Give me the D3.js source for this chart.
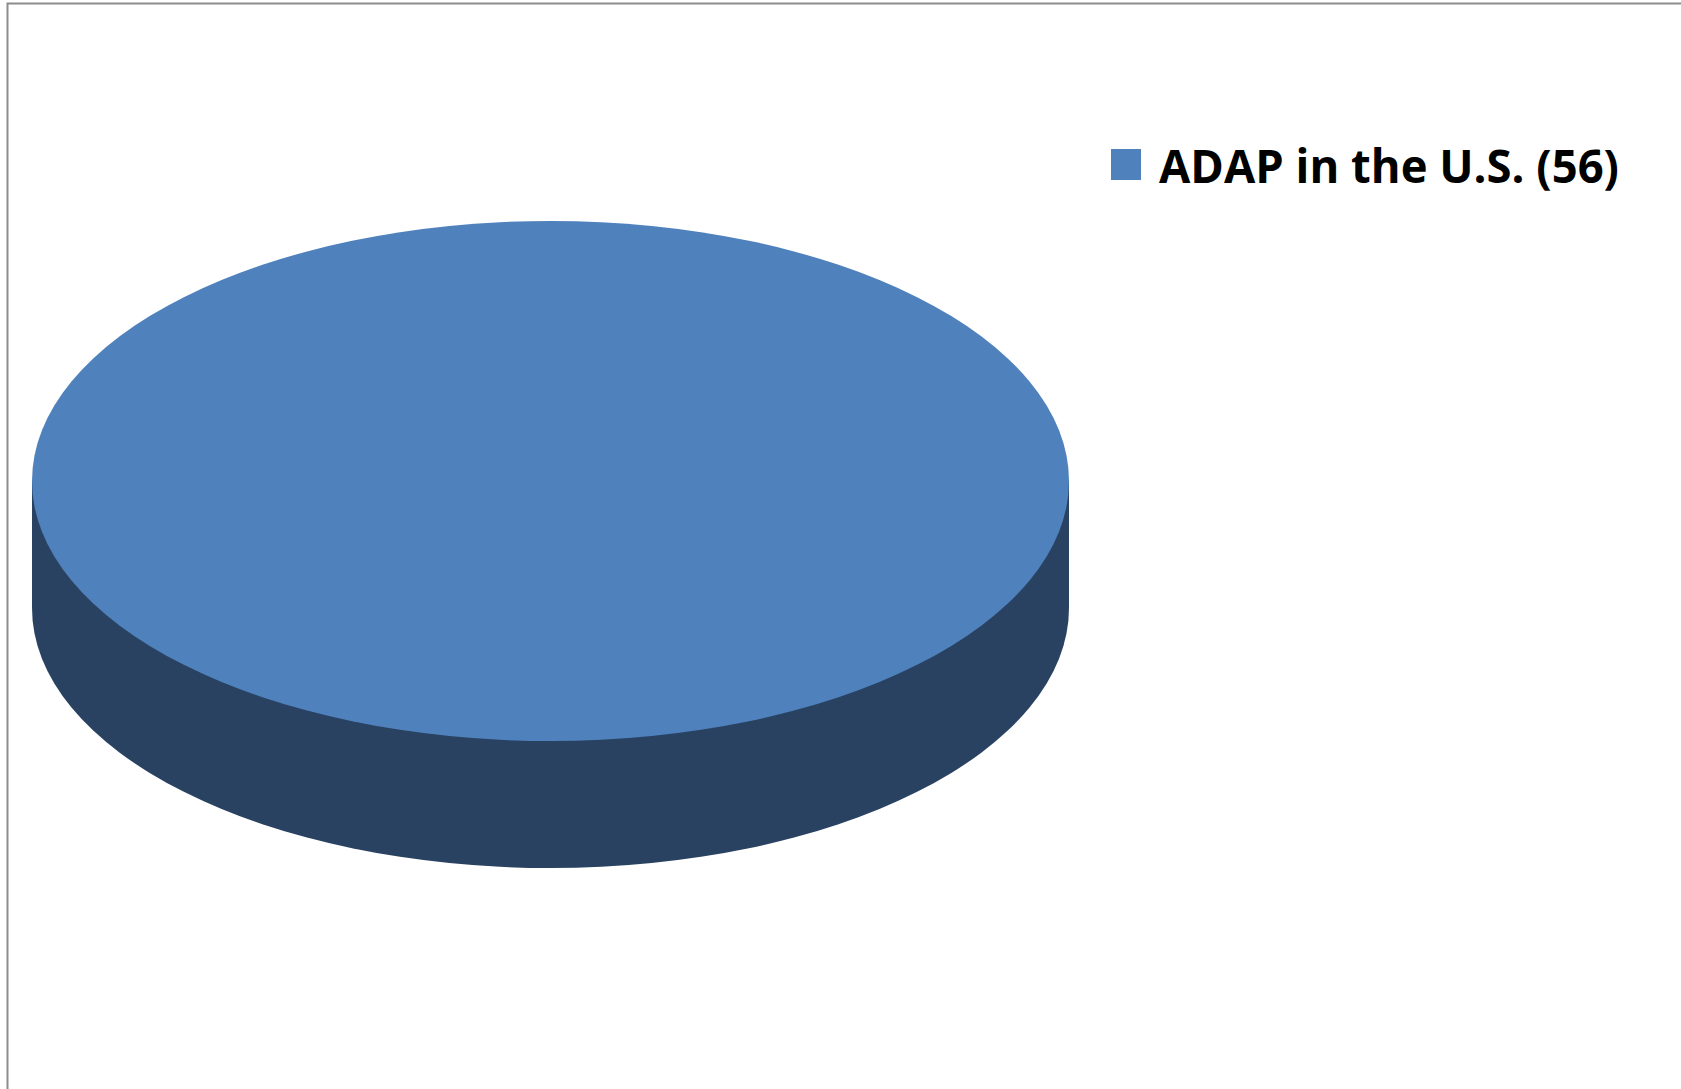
<!DOCTYPE html>
<html>
<head>
<meta charset="utf-8">
<script src="https://cdn.jsdelivr.net/npm/d3@7"></script>
<style>
	body { margin: 0; background: #fff; }
	svg { display: block; }
</style>
</head>
<body>
<svg id="pie_svg"></svg>
<script>
const categories = ['ADAP in the U.S.']
const values = [56]
const colors = ['#4F81BD']
const sideColors = ['#294261']

const w = 1681
const h = 1089
const cx = 550.5
const cy = 481
const rx = 518.5
const ry = 260
const depth = 127

const SVG = d3.select('#pie_svg')
	.attr('width', w)
	.attr('height', h)

// chart frame
SVG.append('rect')
	.attr('x', 7.5)
	.attr('y', 3.5)
	.attr('width', w)
	.attr('height', h)
	.attr('fill', 'none')
	.attr('stroke', '#8c8c8c')
	.attr('stroke-width', 2)

const data = categories.map((c, i) => ({ name: c, value: values[i] }))
const pie = d3.pie().value(d => d.value).sort(null)
const slices = pie(data)
const arc = d3.arc().innerRadius(0).outerRadius(rx)

// bottom face + walls (shown as the side of the disc)
const base = SVG.append('g')
base.selectAll('path.bottom').data(slices).enter().append('path')
	.attr('class', 'bottom')
	.attr('transform', `translate(${cx}, ${cy + depth}) scale(1, ${ry / rx})`)
	.attr('d', arc)
	.attr('fill', (_, i) => sideColors[i])

base.selectAll('rect.wall').data(slices).enter().append('rect')
	.attr('class', 'wall')
	.attr('x', cx - rx)
	.attr('y', cy)
	.attr('width', rx * 2)
	.attr('height', depth)
	.attr('fill', (_, i) => sideColors[i])

// top face
SVG.append('g')
	.attr('transform', `translate(${cx}, ${cy}) scale(1, ${ry / rx})`)
	.selectAll('path.top').data(slices).enter().append('path')
	.attr('class', 'top')
	.attr('d', arc)
	.attr('fill', (_, i) => colors[i])

// legend
const legend = SVG.selectAll('.legend_item').data(data).enter().append('g')
	.attr('class', 'legend_item')
	.attr('transform', (_, i) => `translate(1111, ${149 + i * 50})`)

legend.append('rect')
	.attr('width', 30)
	.attr('height', 31)
	.attr('fill', (_, i) => colors[i])

legend.append('text')
	.attr('x', 48)
	.attr('y', 34)
	.attr('font-family', 'Open Sans, sans-serif')
	.attr('font-weight', 'bold')
	.attr('font-size', 47)
	.attr('textLength', 460)
	.attr('lengthAdjust', 'spacingAndGlyphs')
	.attr('fill', '#000')
	.text(d => `${d.name} (${d.value})`)
</script>
</body>
</html>
